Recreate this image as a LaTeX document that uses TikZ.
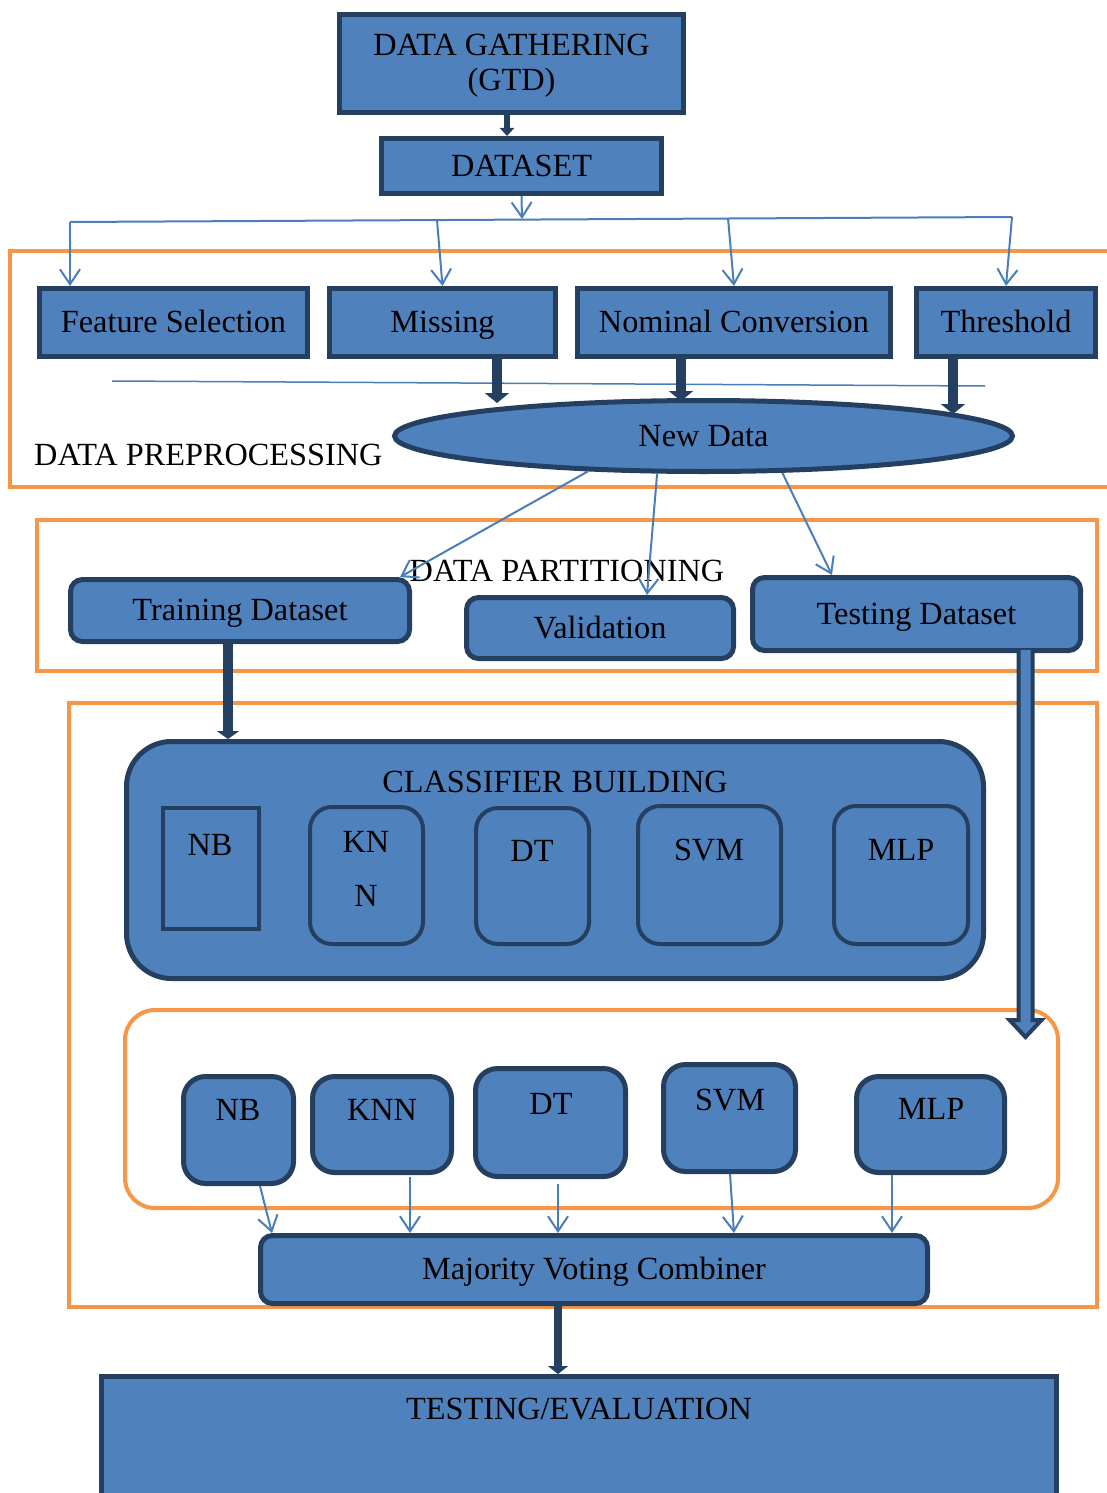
\documentclass[tikz,border=0pt]{standalone}
\usepackage{fontspec}
\setmainfont{Liberation Serif}
\usetikzlibrary{shapes.geometric,arrows.meta,calc}
\definecolor{bfill}{HTML}{4F81BD}
\definecolor{bdark}{HTML}{243F60}
\definecolor{lblue}{HTML}{4A7EBB}
\definecolor{orng}{HTML}{F79646}
\begin{document}
\begin{tikzpicture}[x=1pt,y=-1pt,
  every node/.style={font=\fontsize{32.3}{36}\selectfont, text=black},
  box/.style={draw=bdark, fill=bfill, line width=5pt, inner sep=0pt},
  tb/.style={text height=25pt, text depth=4.5pt},
  rbox/.style={box, tb, rounded corners=12pt},
  ibox/.style={draw=bdark, fill=bfill, line width=4pt, inner sep=0pt, rounded corners=22pt},
  lbox/.style={box, rounded corners=22pt},
  frame/.style={draw=orng, line width=4pt},
  lbl/.style={inner sep=0pt, tb},
  thinarr/.style={draw=lblue, line width=2pt, -{Straight Barb[length=15pt,width=20pt]}},
  thickarr/.style={draw=bdark, line width=10pt, -{Triangle[length=10pt,width=24pt]}},
  busline/.style={draw=lblue, line width=2pt}]
\useasboundingbox (0,0) rectangle (1106,1493);

% orange frames
\draw[frame] (1115,251) -- (10,251) -- (10,487) -- (1115,487);
\draw[frame] (37,520) rectangle (1097,671);
\draw[frame] (69,703) rectangle (1097,1307);
\draw[frame, rounded corners=30pt] (125,1010) rectangle (1058,1208);

% top
\node[box, minimum width=344pt, minimum height=98pt] (gtd) at (511.5,63.5) {};
\node[lbl] (gtdt) at (511.5,45) {DATA GATHERING};
\node[lbl] (gtdu) at (511.5,80) {(GTD)};
\node[box, tb, minimum width=280pt, minimum height=55pt] (ds) at (521.5,166) {DATASET};

% preprocessing
\node[box, tb, minimum width=268pt, minimum height=68pt] (fs) at (173.5,322.5) {Feature Selection};
\node[box, tb, minimum width=226pt, minimum height=68pt] (ms) at (442.5,322.5) {Missing};
\node[box, tb, minimum width=313pt, minimum height=68pt] (nc) at (734,322.5) {Nominal Conversion};
\node[box, tb, minimum width=179pt, minimum height=68pt] (th) at (1006,322.5) {Threshold};
\node[box, tb, ellipse, minimum width=618pt, minimum height=71pt] (nd) at (703.5,436) {New Data};
\node[lbl, anchor=west] (dpl) at (34,455) {DATA PREPROCESSING};
\draw[lblue, line width=1.5pt] (112,381) -- (985,386);

% partitioning
\node[lbl] (dptl) at (567,571) {DATA PARTITIONING};
\node[rbox, minimum width=339pt, minimum height=62pt] (tr) at (240,610.5) {Training Dataset};
\node[rbox, minimum width=267pt, minimum height=61pt] (va) at (600,628) {Validation};
\node[rbox, minimum width=328pt, minimum height=73pt] (te) at (916.5,614) {Testing Dataset};

% classifier building
\node[box, rounded corners=45pt, minimum width=857pt, minimum height=237pt] (cb) at (555,860) {};
\node[lbl] (cbl) at (555,782) {CLASSIFIER BUILDING};
\node[ibox, rounded corners=0pt, minimum width=96pt, minimum height=121pt] (nb1) at (211,868.5) {};
\node[ibox, minimum width=113pt, minimum height=137pt] (kn1) at (366.5,875.5) {};
\node[ibox, minimum width=113pt, minimum height=136pt] (dt1) at (532.5,876) {};
\node[ibox, minimum width=143pt, minimum height=138pt] (sv1) at (709.5,875) {};
\node[ibox, minimum width=134pt, minimum height=138pt] (ml1) at (901,875) {};
\node[lbl] (nb1t) at (210,845) {NB};
\node[lbl] (kn1t) at (366,842) {KN};
\node[lbl] (kn1u) at (366,896) {N};
\node[lbl] (dt1t) at (532,851) {DT};
\node[lbl] (sv1t) at (709,850) {SVM};
\node[lbl] (ml1t) at (901,850) {MLP};

% testing classifiers
\node[lbox, minimum width=110pt, minimum height=107pt] (nb2) at (238.5,1130) {};
\node[lbox, minimum width=139pt, minimum height=96pt] (kn2) at (382,1124.5) {};
\node[lbox, minimum width=150pt, minimum height=108pt] (dt2) at (550.5,1122.5) {};
\node[lbox, minimum width=132pt, minimum height=107pt] (sv2) at (729.5,1118) {};
\node[lbox, minimum width=148pt, minimum height=96pt] (ml2) at (930.5,1124.5) {};
\node[lbl] (nb2t) at (238,1110) {NB};
\node[lbl] (kn2t) at (382,1110) {KNN};
\node[lbl] (dt2t) at (551,1104) {DT};
\node[lbl] (sv2t) at (730,1100) {SVM};
\node[lbl] (ml2t) at (931,1109) {MLP};

\node[rbox, minimum width=667pt, minimum height=68pt] (mv) at (594,1269.5) {Majority Voting Combiner};
\node[box, minimum width=955pt, minimum height=121pt] (ev) at (579,1437) {};
\node[lbl] (evt) at (579,1409) {TESTING/EVALUATION};

% connectors: top
\draw[draw=bdark, line width=6pt, -{Triangle[length=8pt,width=14pt]}] ([xshift=-4.5pt]gtd.south) -- ([xshift=-14.5pt]ds.north);
\coordinate (b1) at (70,222);
\coordinate (b2) at (437,220);
\coordinate (b3) at (728,218);
\coordinate (b4) at (1012,217);
\coordinate (bm) at (522,219);
\draw[busline] (b1) -- (b4);
\draw[thinarr] (ds.south) -- (bm);
\draw[thinarr] (b1) -- (fs.north -| b1);
\draw[thinarr] (b2) -- (ms.north);
\draw[thinarr] (b3) -- (nc.north);
\draw[thinarr] (b4) -- (th.north);

% to new data
\coordinate (m1) at (497,403);
\coordinate (m2) at (681,401);
\coordinate (m3) at (953,414);
\draw[thickarr] (ms.south -| m1) -- (m1);
\draw[thickarr] (nc.south -| m2) -- (m2);
\draw[thickarr] (th.south -| m3) -- (m3);

% from new data
\draw[thinarr] (nd.197) -- ([xshift=-12pt]tr.north east);
\draw[thinarr] (nd.219) -- ([xshift=47pt]va.north);
\draw[thinarr] (nd.335.6) -- ([xshift=-84.5pt]te.north);

% training to classifier building
\draw[draw=bdark, line width=10pt, -{Triangle[length=8pt,width=22pt]}] ([xshift=-12pt]tr.south) -- ([xshift=-327pt]cb.north);

% testing double arrow
\coordinate (tt) at (1025.5,1037);
\draw[draw=bdark, fill=bfill, line width=4pt, line join=miter]
  ($(te.south -| tt)+(-7,-3)$) -- ($(tt)+(-7,-17)$) -- ($(tt)+(-16,-17)$) -- (tt)
  -- ($(tt)+(16,-17)$) -- ($(tt)+(7,-17)$) -- ($(te.south -| tt)+(7,-3)$);

% to majority voting
\draw[thinarr] ($(nb2.south)+(21.5,0)$) -- ($(mv.north)+(-322,0)$);
\draw[thinarr] ($(kn2.south)+(28,2)$) -- ($(mv.north)+(-184,0)$);
\draw[thinarr] ($(dt2.south)+(7.5,5)$) -- ($(mv.north)+(-36,0)$);
\draw[thinarr] ($(sv2.south)+(0.5,0)$) -- ($(mv.north)+(140,0)$);
\draw[thinarr] ($(ml2.south)+(-38.5,0)$) -- ($(mv.north)+(298,0)$);

% majority to evaluation
\draw[draw=bdark, line width=8pt, -{Triangle[length=8pt,width=20pt]}] ([xshift=-36pt]mv.south) -- ([xshift=-21pt]ev.north);
\end{tikzpicture}
\end{document}
